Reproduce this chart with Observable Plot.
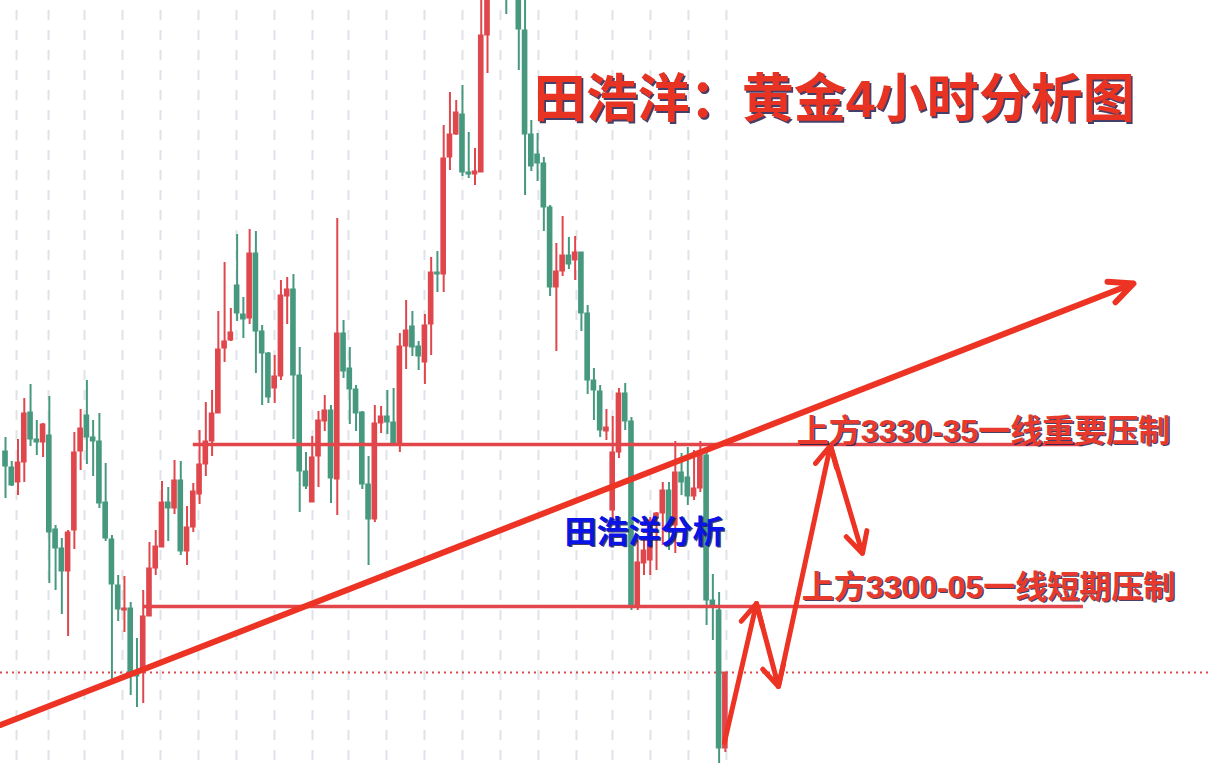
<!DOCTYPE html>
<html><head><meta charset="utf-8">
<script src="https://cdn.jsdelivr.net/npm/d3@7"></script>
<script src="https://cdn.jsdelivr.net/npm/@observablehq/plot@0.6"></script>
<style>
html,body{margin:0;padding:0;background:#fff;overflow:hidden;}
#chart svg{display:block;}
</style>
</head><body><div id="chart"></div>
<script>
// 4-hour gold candles (price units)
const opens = [3329.8,3326.6,3323.6,3327.6,3337.6,3332.2,3331.6,3333.0,3314.2,3310.4,
3305.8,3314.0,3329.8,3337.0,3332.6,3331.8,3319.6,3312.2,3303.0,3298.0,
3298.4,3285.6,3286.0,3296.8,3306.4,3310.6,3319.6,3318.4,3324.0,3309.8,
3314.6,3321.2,3327.2,3331.8,3337.4,3350.4,3352.0,3363.0,3357.2,3356.4,
3369.4,3353.8,3349.4,3342.4,3344.8,3360.8,3362.2,3345.0,3325.8,3319.6,
3328.8,3335.8,3338.0,3324.2,3353.4,3346.4,3342.2,3337.6,3323.2,3316.2,
3335.4,3336.8,3335.6,3331.4,3350.8,3354.8,3350.8,3347.6,3355.2,3365.6,
3365.2,3388.6,3393.2,3397.2,3385.6,3385.2,3385.6,3413.0,3422.0,3432.0,
3428.0,3420.6,3424.0,3414.0,3393.2,3389.2,3387.4,3378.6,3362.6,3365.8,
3369.0,3368.0,3369.6,3357.4,3344.0,3341.8,3333.8,3318.0,3329.6,3341.4,
3335.8,3299.0,3307.4,3308.0,3316.4,3317.4,3322.0,3315.0,3325.6,3324.6,
3320.8,3322.4,3329.0,3300.0,3298.0,3270.4];
const highs = [3332.6,3327.8,3332.2,3340.4,3343.2,3336.0,3335.4,3340.8,3315.0,3312.4,
3314.0,3333.6,3338.2,3344.0,3336.0,3337.4,3327.4,3313.0,3305.0,3304.8,
3299.6,3292.4,3302.0,3311.6,3314.0,3323.8,3322.6,3328.0,3327.8,3318.8,
3323.4,3334.0,3339.6,3342.0,3357.8,3367.6,3358.4,3373.2,3360.6,3374.2,
3373.8,3355.0,3349.6,3349.0,3364.0,3364.6,3365.2,3350.6,3329.6,3332.8,
3337.8,3341.0,3339.0,3376.4,3356.0,3350.6,3343.0,3337.8,3328.8,3339.0,
3338.8,3342.0,3342.4,3353.4,3360.0,3357.8,3351.8,3357.2,3368.6,3369.8,
3395.0,3401.6,3400.0,3403.0,3393.6,3390.4,3423.0,3425.0,3438.0,3436.0,
3432.0,3428.0,3428.0,3421.0,3396.0,3393.4,3388.6,3379.0,3371.4,3376.8,
3372.6,3372.8,3369.6,3359.0,3346.4,3343.0,3338.2,3336.8,3342.4,3343.4,
3336.6,3312.0,3312.6,3316.6,3317.6,3323.6,3323.6,3331.8,3329.4,3330.6,
3330.0,3331.8,3330.0,3305.2,3301.6,3285.6];
const lows = [3320.4,3322.8,3321.0,3323.6,3330.8,3329.0,3328.6,3303.4,3302.0,3297.2,
3292.8,3310.2,3326.0,3327.2,3324.8,3318.4,3311.8,3284.0,3295.8,3293.6,
3281.0,3278.6,3279.4,3296.8,3305.0,3310.6,3311.8,3317.2,3309.0,3307.0,
3313.6,3319.2,3324.8,3328.8,3337.4,3347.6,3351.8,3355.8,3352.4,3355.2,
3345.4,3339.0,3339.4,3339.4,3344.0,3355.2,3332.2,3317.6,3322.2,3319.6,
3322.6,3333.8,3319.4,3317.0,3344.4,3335.2,3333.8,3322.2,3307.0,3315.6,
3333.4,3333.2,3331.4,3329.6,3346.2,3348.8,3346.0,3343.2,3349.0,3361.6,
3361.6,3386.0,3393.0,3384.8,3384.4,3383.0,3385.6,3405.4,3421.0,3424.0,
3417.2,3420.4,3406.0,3381.0,3385.8,3383.8,3373.8,3360.8,3349.8,3364.8,
3366.2,3364.0,3353.8,3341.2,3336.0,3332.6,3332.0,3316.0,3328.4,3334.0,
3298.0,3298.0,3305.0,3305.0,3306.0,3311.0,3310.0,3309.4,3321.0,3319.0,
3320.0,3321.6,3295.0,3292.0,3267.4,3269.6];
const closes = [3326.8,3323.0,3327.6,3337.4,3332.2,3331.6,3335.2,3313.6,3310.4,3305.8,
3313.6,3329.6,3334.4,3332.6,3331.8,3319.4,3312.4,3303.2,3298.2,3298.4,
3285.6,3284.8,3296.8,3306.4,3310.8,3319.6,3318.4,3324.0,3309.8,3314.6,
3321.8,3327.2,3331.8,3337.4,3350.2,3351.8,3353.6,3357.4,3356.2,3369.4,
3353.8,3349.4,3340.6,3344.8,3361.0,3362.2,3345.0,3325.8,3322.8,3328.6,
3336.0,3338.0,3324.4,3353.4,3345.8,3342.2,3337.4,3323.2,3316.2,3335.4,
3336.8,3335.6,3331.4,3350.8,3354.0,3350.6,3348.8,3355.0,3365.6,3365.2,
3388.4,3393.2,3397.6,3385.6,3385.2,3385.8,3413.0,3422.0,3432.0,3428.0,
3420.6,3425.0,3414.2,3393.2,3386.8,3387.4,3378.6,3362.6,3365.8,3369.0,
3367.2,3369.6,3357.4,3344.0,3342.0,3334.0,3334.6,3329.6,3341.4,3335.8,
3299.0,3307.6,3310.0,3316.0,3317.4,3322.0,3315.0,3325.6,3323.6,3320.8,
3322.4,3329.0,3300.0,3299.0,3270.4,3285.6];

// day separators (bar index positions)
const dayTicks = [1.76,6.87,12.62,18.69,24.76,30.83,36.9,42.97,49.04,54.79,
60.86,66.93,73.0,79.07,85.14,91.21,96.96,103.03,109.1,115.17];

// analysis annotations
const currentPrice = 3285.6;
const levelPrices = [3331.2, 3298.8];
const levelStarts = [30.0, 22.0];
const levelEnd = 172.2;
const levelLabels = ["上方3330-35一线重要压制", "上方3300-05一线短期压制"];
const labelBars = [126.4, 127.2];
const labelPrices = [3333.8, 3302.6];
const trendBars = [-0.8, 180.2];
const trendPrices = [3275.1, 3363.4];
const pathBars = [114.85, 119.97, 123.48, 131.79, 136.9];
const pathPrices = [3271.6, 3299.4, 3282.8, 3331.0, 3309.4];
const titleText = "田浩洋：黄金4小时分析图";
const titleBar = 84.4, titlePrice = 3400;
const signText = "田浩洋分析";
const signBar = 89.3, signPrice = 3313.6;

const candles = opens.map((o, i) => ({i, o, h: highs[i], l: lows[i], c: closes[i], up: closes[i] >= o}));
const ups = candles.filter(d => d.up), downs = candles.filter(d => !d.up);
const RED = "#e0474c", GREEN = "#46997f", LINE = "#ec3324";
const levels = levelPrices.map((p, k) => ({p, x1: levelStarts[k], x2: levelEnd}));
const labels = levelLabels.map((t, k) => ({t, x: labelBars[k], y: labelPrices[k]}));
const pathPts = pathBars.map((x, k) => ({x, y: pathPrices[k]}));
const segs = d3.pairs(pathPts).map(([a, b]) => ({x1: a.x, y1: a.y, x2: b.x, y2: b.y}));
const FONT = "'Liberation Sans','Noto Sans CJK SC',sans-serif";

function body(data, color) {
  return Plot.rect(data, {x1: d => d.i - 0.45, x2: d => d.i + 0.45,
    y1: d => Math.min(d.o, d.c), y2: d => Math.max(d.o, d.c),
    fill: color, insetTop: -0.5, insetBottom: -0.5, clip: true});
}
function shadowText(data, opts, color) {
  return [
    Plot.text(data, {...opts, fill: "#241c4e", dx: 1.6, dy: 1.6, fillOpacity: 0.85}),
    Plot.text(data, {...opts, fill: color})
  ];
}

const chart = Plot.plot({
  width: 1210, height: 770, margin: 0,
  x: {domain: [-0.8, 192.5], axis: null},
  y: {domain: [3266, 3420], axis: null},
  style: {background: "#fff", overflow: "hidden"},
  marks: [
    Plot.ruleX(dayTicks, {stroke: "#dfe2e9", strokeWidth: 2, strokeDasharray: "10,10", strokeDashoffset: 10}),
    Plot.ruleY([currentPrice], {stroke: "#e0484a", strokeWidth: 2, strokeDasharray: "2,4"}),
    Plot.ruleX(downs, {x: "i", y1: "l", y2: "h", stroke: GREEN, strokeWidth: 2, clip: true}),
    Plot.ruleX(ups, {x: "i", y1: "l", y2: "h", stroke: RED, strokeWidth: 2, clip: true}),
    body(downs, GREEN),
    body(ups, RED),
    Plot.ruleY(levels, {y: "p", x1: "x1", x2: "x2", stroke: "#e2454a", strokeWidth: 3.5}),
    Plot.arrow([{x1: trendBars[0], y1: trendPrices[0], x2: trendBars[1], y2: trendPrices[1]}],
      {x1: "x1", y1: "y1", x2: "x2", y2: "y2", stroke: LINE, strokeWidth: 6, headLength: 6.5, headAngle: 50}),
    Plot.arrow(segs, {x1: "x1", y1: "y1", x2: "x2", y2: "y2", stroke: LINE, strokeWidth: 5, headLength: 7, headAngle: 55}),
    ...shadowText([{t: titleText, x: titleBar, y: titlePrice}],
      {x: "x", y: "y", text: "t", fontSize: 52, fontWeight: "bold", textAnchor: "start", fontFamily: FONT}, "#e83323"),
    ...shadowText(labels,
      {x: "x", y: "y", text: "t", fontSize: 32, fontWeight: "bold", textAnchor: "start", fontFamily: FONT}, "#e83a2c"),
    ...shadowText([{t: signText, x: signBar, y: signPrice}],
      {x: "x", y: "y", text: "t", fontSize: 32, fontWeight: "bold", textAnchor: "start", fontFamily: FONT}, "#0a14e6")
  ]
});
document.getElementById("chart").appendChild(chart);
</script>
</body></html>
